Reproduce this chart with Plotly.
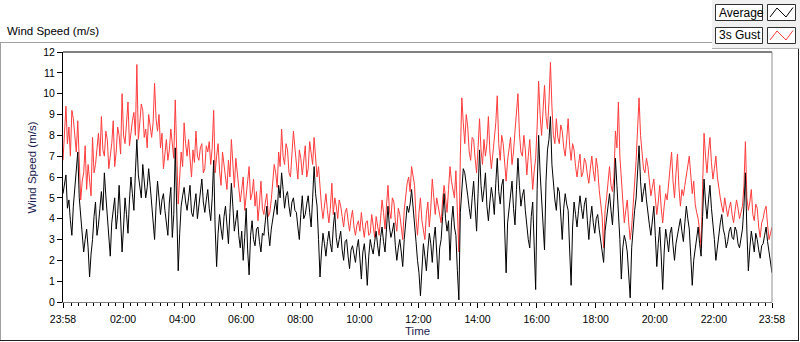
import plotly.graph_objects as go

# ---- data (m/s), one sample every 3 minutes from 23:58 to 23:58 ----
sample_minutes = 3
gust = [
    6.8, 7.9, 9.4, 7.6, 8.4, 7.0, 9.2, 8.8, 8.0, 7.2, 8.7, 6.3, 4.9, 5.8, 6.2, 7.5, 5.4, 6.6, 6.0, 5.1,
    7.9, 6.2, 6.6, 7.4, 8.1, 7.0, 8.9, 7.3, 7.0, 8.2, 7.8, 6.4, 6.9, 7.6, 8.7, 6.5, 7.2, 8.4, 8.0, 7.1,
    10.0, 8.0, 7.6, 8.8, 9.6, 7.5, 8.2, 8.7, 9.1, 8.0, 11.4, 7.8, 8.6, 9.5, 9.2, 7.9, 8.3, 7.4, 9.0, 8.5,
    7.9, 8.6, 10.5, 8.8, 8.2, 9.0, 7.4, 8.1, 6.4, 7.1, 7.8, 6.8, 7.3, 8.3, 7.6, 6.9, 9.7, 6.4, 4.7, 6.0,
    7.2, 6.5, 8.6, 7.6, 7.0, 7.8, 6.6, 6.0, 7.3, 6.7, 8.2, 7.0, 6.8, 7.4, 7.6, 6.2, 6.4, 7.5, 7.2, 7.7,
    6.6, 7.4, 9.2, 6.2, 7.0, 7.6, 6.3, 5.6, 7.2, 6.6, 6.1, 5.4, 6.8, 6.0, 7.8, 6.4, 5.5, 6.9, 6.3, 5.6,
    4.8, 5.4, 6.0, 4.4, 5.0, 5.7, 6.5, 4.9, 5.2, 5.9, 4.6, 5.3, 3.9, 4.7, 5.8, 4.5, 4.2, 4.8, 5.2, 4.1,
    4.3, 4.9, 5.6, 6.6, 6.2, 5.5, 7.2, 6.5, 8.3, 7.0, 6.6, 7.6, 7.3, 6.2, 6.0, 7.1, 8.2, 7.4, 6.5, 5.9,
    7.3, 6.9, 6.1, 6.8, 7.5, 6.0, 6.4, 7.7, 7.2, 6.6, 7.9, 7.1, 6.0, 6.5, 5.4, 4.6, 4.0, 4.8, 5.2, 4.4,
    3.8, 4.5, 5.7, 4.2, 5.0, 4.6, 4.0, 4.9, 4.6, 4.1, 3.6, 4.3, 4.5, 3.9, 3.4, 4.0, 4.4, 3.6, 3.2, 3.7,
    3.9, 3.4, 4.3, 3.6, 3.1, 3.8, 3.9, 3.2, 3.3, 4.2, 3.6, 3.1, 4.1, 3.7, 3.2, 4.0, 4.9, 4.3, 3.5, 4.6,
    5.6, 4.4, 4.0, 5.0, 4.8, 3.9, 3.4, 4.5, 4.2, 3.6, 3.0, 4.4, 5.2, 5.7, 6.0, 5.3, 6.5, 5.9, 5.6, 4.0,
    3.2, 4.3, 5.0, 3.9, 3.4, 3.0, 4.2, 4.8, 3.6, 4.5, 5.9, 4.8, 4.2, 5.0, 4.6, 4.0, 3.8, 4.9, 5.6, 5.0,
    4.3, 5.4, 6.5, 5.8, 5.4, 5.0, 6.3, 4.6, 2.4, 7.0, 9.8, 8.6, 7.6, 9.0, 8.4, 7.2, 6.8, 7.9, 7.8, 6.9,
    6.2, 7.4, 8.8, 7.3, 6.6, 7.8, 7.0, 7.6, 8.9, 7.2, 6.4, 7.1, 7.7, 8.6, 9.9, 7.6, 6.8, 8.0, 7.6, 6.4,
    5.8, 6.8, 7.4, 7.9, 6.6, 7.2, 8.2, 9.0, 10.0, 8.1, 7.2, 7.0, 8.0, 7.3, 6.1, 7.0, 7.8, 6.6, 5.4, 6.3,
    6.9, 8.4, 10.6, 9.0, 8.0, 9.2, 10.4, 8.9, 8.3, 9.6, 11.5, 9.4, 8.0, 7.6, 8.8, 7.9, 7.6, 8.5, 8.2, 7.4,
    7.0, 7.8, 8.8, 7.5, 6.8, 7.6, 7.3, 6.5, 6.0, 6.6, 7.1, 6.0, 6.2, 6.9, 6.7, 6.1, 5.7, 6.4, 7.0, 6.3,
    5.8, 6.9, 6.4, 5.4, 4.6, 4.1, 2.6, 4.4, 5.0, 5.8, 6.5, 5.6, 5.3, 6.0, 8.2, 7.4, 9.6, 7.0, 5.9, 4.6,
    3.8, 4.4, 4.9, 3.8, 3.0, 3.6, 4.6, 5.4, 6.8, 8.3, 9.8, 8.0, 7.0, 6.4, 6.2, 6.9, 6.5, 5.8, 5.1, 5.5,
    5.9, 5.0, 4.2, 4.8, 5.6, 4.5, 3.8, 4.6, 5.2, 4.9, 5.7, 6.3, 7.2, 5.8, 5.0, 6.2, 7.1, 5.5, 4.6, 5.4,
    5.1, 5.6, 6.0, 6.6, 7.0, 6.1, 5.2, 5.8, 4.7, 4.3, 4.0, 3.4, 2.6, 5.5, 8.1, 7.0, 6.2, 7.2, 7.9, 6.7,
    5.9, 6.4, 7.0, 6.0, 5.4, 5.0, 4.6, 4.3, 5.0, 4.6, 4.1, 4.5, 4.8, 4.2, 3.8, 4.4, 4.9, 4.5, 4.0, 4.3,
    4.6, 5.6, 7.7, 5.0, 4.4, 4.8, 5.4, 4.2, 3.9, 4.7, 4.5, 3.6, 3.1, 3.8, 4.0, 4.4, 4.6, 3.7, 3.0, 3.3,
    3.6,
]
average = [
    5.2, 5.8, 6.1, 4.5, 4.9, 3.9, 3.2, 4.6, 5.5, 6.0, 7.2, 5.0, 4.0, 3.1, 2.4, 3.0, 3.5, 2.6, 1.2, 2.3,
    3.0, 4.1, 4.8, 3.2, 3.7, 4.5, 5.3, 4.4, 6.2, 5.1, 4.2, 3.4, 2.2, 3.8, 4.6, 5.0, 3.5, 4.2, 5.6, 4.0,
    2.4, 3.6, 5.0, 4.2, 3.3, 4.9, 6.0, 5.2, 4.4, 6.2, 7.8, 6.1, 5.6, 5.0, 6.6, 5.8, 5.0, 5.5, 6.4, 5.6,
    4.8, 4.0, 3.0, 4.6, 5.8, 5.0, 4.2, 4.9, 5.2, 4.4, 3.9, 3.2, 4.8, 5.5, 3.1, 4.2, 7.4, 4.6, 1.5, 3.3,
    4.6, 5.1, 5.5, 4.8, 4.4, 5.0, 5.6, 4.3, 4.1, 4.7, 5.2, 4.0, 4.6, 5.4, 5.9, 4.8, 4.3, 4.9, 5.4, 4.5,
    3.9, 5.0, 6.8, 3.6, 1.7, 3.3, 4.2, 3.5, 3.0, 4.1, 4.6, 3.7, 2.8, 4.3, 5.7, 4.6, 3.4, 3.9, 4.4, 3.2,
    2.6, 3.4, 2.0, 3.1, 4.5, 2.5, 1.3, 3.2, 3.9, 3.0, 2.7, 3.5, 3.6, 2.9, 2.4, 3.3, 3.2, 3.9, 4.6, 3.4,
    2.7, 3.5, 3.9, 4.4, 4.9, 4.2, 5.6, 5.0, 6.2, 5.4, 4.5, 5.1, 5.3, 4.6, 4.1, 4.8, 5.0, 4.4, 4.3, 3.6,
    3.0, 4.2, 5.1, 4.0, 4.2, 4.7, 5.1, 4.3, 3.6, 5.0, 6.5, 5.2, 4.6, 3.0, 1.2, 2.4, 3.3, 2.8, 2.2, 2.9,
    3.4, 2.8, 2.4, 3.6, 4.3, 3.1, 2.6, 3.0, 3.4, 2.5, 2.0, 2.9, 3.0, 2.2, 1.6, 2.5, 2.7, 2.3, 1.9, 2.6,
    3.0, 2.1, 1.1, 2.4, 2.8, 2.0, 0.8, 2.2, 3.0, 2.6, 2.3, 2.9, 3.4, 2.7, 2.2, 3.1, 3.6, 2.9, 2.4, 3.5,
    4.6, 3.6, 3.1, 3.4, 3.8, 2.7, 2.0, 2.6, 3.0, 2.4, 1.7, 3.0, 3.9, 4.6, 4.3, 4.7, 5.4, 4.4, 3.6, 2.9,
    2.0, 1.4, 0.3, 1.9, 2.8, 2.2, 1.5, 2.5, 3.3, 2.8, 1.9, 3.0, 3.6, 2.4, 1.1, 2.6, 3.0, 4.1, 5.2, 4.0,
    3.4, 3.9, 2.0, 3.8, 4.6, 3.6, 3.2, 1.5, 0.1, 4.3, 5.6, 6.4, 6.2, 5.5, 5.1, 4.5, 4.0, 5.0, 5.8, 4.6,
    3.4, 5.2, 7.3, 5.6, 4.8, 5.4, 6.2, 4.6, 3.9, 4.8, 5.5, 5.0, 4.2, 5.7, 6.9, 5.3, 4.7, 5.6, 5.9, 3.5,
    1.4, 3.8, 4.6, 5.2, 5.8, 4.5, 3.7, 5.4, 6.9, 5.6, 4.6, 5.1, 5.4, 4.4, 3.5, 3.0, 2.6, 4.1, 4.8, 2.8,
    0.6, 5.4, 8.0, 6.2, 5.0, 3.6, 2.5, 5.8, 7.3, 7.8, 8.9, 6.6, 5.6, 4.9, 4.4, 5.5, 5.3, 4.0, 3.0, 4.5,
    5.2, 4.7, 4.4, 2.5, 0.8, 3.6, 4.8, 4.2, 3.6, 4.4, 5.1, 4.5, 4.0, 4.7, 5.0, 3.9, 3.0, 4.0, 4.6, 3.8,
    3.3, 4.0, 4.2, 3.5, 3.0, 2.4, 1.9, 3.4, 4.1, 4.7, 5.2, 4.4, 3.7, 5.0, 6.9, 5.6, 4.5, 3.0, 1.1, 2.6,
    3.2, 2.9, 2.4, 1.5, 0.2, 2.6, 3.8, 4.4, 5.0, 6.2, 7.5, 5.8, 4.8, 5.3, 5.7, 4.9, 4.1, 3.7, 3.2, 4.0,
    4.6, 3.2, 1.7, 2.8, 3.6, 2.2, 0.6, 2.4, 3.5, 3.0, 2.4, 3.3, 3.6, 2.7, 2.0, 2.8, 3.2, 3.6, 4.0, 3.4,
    2.9, 3.8, 4.6, 4.0, 3.5, 2.2, 0.8, 2.0, 2.6, 3.1, 3.6, 2.8, 2.2, 4.1, 5.9, 4.8, 4.0, 4.9, 5.6, 4.5,
    3.8, 3.0, 2.0, 2.7, 3.3, 3.8, 4.2, 3.5, 3.2, 2.6, 2.9, 3.4, 3.6, 3.1, 3.0, 3.6, 3.4, 2.8, 2.6, 3.2,
    3.5, 4.6, 6.2, 3.4, 1.5, 2.6, 3.4, 2.9, 2.4, 3.3, 3.0, 2.5, 2.1, 2.7, 2.8, 3.2, 3.6, 2.9, 2.3, 1.9,
    1.4,
]
minutes = [i * sample_minutes for i in range(len(gust))]

tick_minutes = [0, 122, 242, 362, 482, 602, 722, 842, 962, 1082, 1202, 1322, 1440]
tick_labels = ["23:58", "02:00", "04:00", "06:00", "08:00", "10:00", "12:00",
               "14:00", "16:00", "18:00", "20:00", "22:00", "23:58"]
y_ticks = list(range(0, 13))

FONT = "Liberation Sans, Arial, sans-serif"
W, H = 800, 342
L, R, T, B = 63, 772, 52, 302


def px(x):
    return (x - L) / (R - L)


def py(y):
    return (B - y) / (B - T)


fig = go.Figure()
fig.add_trace(go.Scatter(x=minutes, y=gust, mode="lines", name="3s Gust",
                         line=dict(color="#ff3c3c", width=1)))
fig.add_trace(go.Scatter(x=minutes, y=average, mode="lines", name="Average",
                         line=dict(color="#000000", width=1)))

shapes = []


def line(x0, y0, x1, y1, color, width=1):
    shapes.append(dict(type="line", xref="paper", yref="paper",
                       x0=px(x0), y0=py(y0), x1=px(x1), y1=py(y1),
                       line=dict(color=color, width=width), layer="above"))


def rect(x0, y0, x1, y1, fill, color, width=1):
    shapes.append(dict(type="rect", xref="paper", yref="paper",
                       x0=px(x0), y0=py(y0), x1=px(x1), y1=py(y1),
                       fillcolor=fill, line=dict(color=color, width=width),
                       layer="below"))


# outer panel
line(0, 42.5, 712, 42.5, "#a0a0a0")
line(0.5, 42.5, 0.5, 341, "#a0a0a0")
line(0, 340.5, 799, 340.5, "#202020")
line(798.5, 49, 798.5, 341, "#202020")
# legend panel
rect(712, 0, 800, 49, "#f0f0f0", "#f0f0f0", 0)
line(712, 48.5, 799, 48.5, "#b0b0b0")
rect(715.5, 4.5, 762.5, 20.5, "white", "#303030")
rect(767.5, 4.5, 795.5, 20.5, "white", "#303030")
rect(715.5, 27.5, 762.5, 43.5, "white", "#303030")
rect(767.5, 27.5, 795.5, 43.5, "white", "#303030")
for yo, col in ((0, "#000000"), (23, "#ff3c3c")):
    pts = [(770, 17 + yo), (777, 8 + yo), (786, 17 + yo), (793, 7.5 + yo)]
    path = "M " + " L ".join(f"{px(a)},{py(b)}" for a, b in pts)
    shapes.append(dict(type="path", xref="paper", yref="paper", path=path,
                       line=dict(color=col, width=1), layer="above"))
# plot frame
line(L, T, R, T, "#000000")
line(R, T, R, B, "#909090")

annotations = [
    dict(text="Wind Speed (m/s)", xref="paper", yref="paper", x=px(5), y=py(31),
         xanchor="left", yanchor="middle", showarrow=False,
         font=dict(family=FONT, size=11.5, color="#000000")),
    dict(text="Wind Speed (m/s)", xref="paper", yref="paper", x=px(31.5), y=py(168),
         xanchor="center", yanchor="middle", showarrow=False, textangle=-90,
         font=dict(family=FONT, size=11.5, color="#1c1c50")),
    dict(text="Time", xref="paper", yref="paper", x=px(417), y=py(331),
         xanchor="center", yanchor="middle", showarrow=False,
         font=dict(family=FONT, size=11.5, color="#1c1c50")),
    dict(text="Average", xref="paper", yref="paper", x=px(717), y=py(12.5),
         xanchor="left", yanchor="middle", showarrow=False,
         font=dict(family=FONT, size=12, color="#000000")),
    dict(text="3s Gust", xref="paper", yref="paper", x=px(717), y=py(35.5),
         xanchor="left", yanchor="middle", showarrow=False,
         font=dict(family=FONT, size=12, color="#000000")),
]

fig.update_layout(
    width=W, height=H,
    margin=dict(l=L, r=W - R, t=T, b=H - B, pad=0),
    paper_bgcolor="white", plot_bgcolor="white",
    showlegend=False,
    shapes=shapes, annotations=annotations,
    font=dict(family=FONT, size=10.5, color="#000000"),
    xaxis=dict(range=[0, 1440], tickmode="array", tickvals=tick_minutes,
               ticktext=tick_labels, ticks="outside", ticklen=5, tickcolor="#000000",
               showline=True, linecolor="#808080", linewidth=1,
               showgrid=False, zeroline=False, automargin=False,
               ticklabelstandoff=2,
               tickfont=dict(family=FONT, size=10.5, color="#000000"),
               minor=dict(tickmode="linear", tick0=2, dtick=15, ticks="outside",
                          ticklen=3, tickcolor="#000000", showgrid=False)),
    yaxis=dict(range=[0, 12], tickmode="array", tickvals=y_ticks,
               ticks="outside", ticklen=5, tickcolor="#000000",
               showline=True, linecolor="#000000", linewidth=1,
               showgrid=False, zeroline=False, automargin=False,
               tickfont=dict(family=FONT, size=10.5, color="#000000")),
)

fig.write_html("out.html", config={"displayModeBar": False},
               post_script="document.body.style.margin='0';document.body.style.overflow='hidden';")
